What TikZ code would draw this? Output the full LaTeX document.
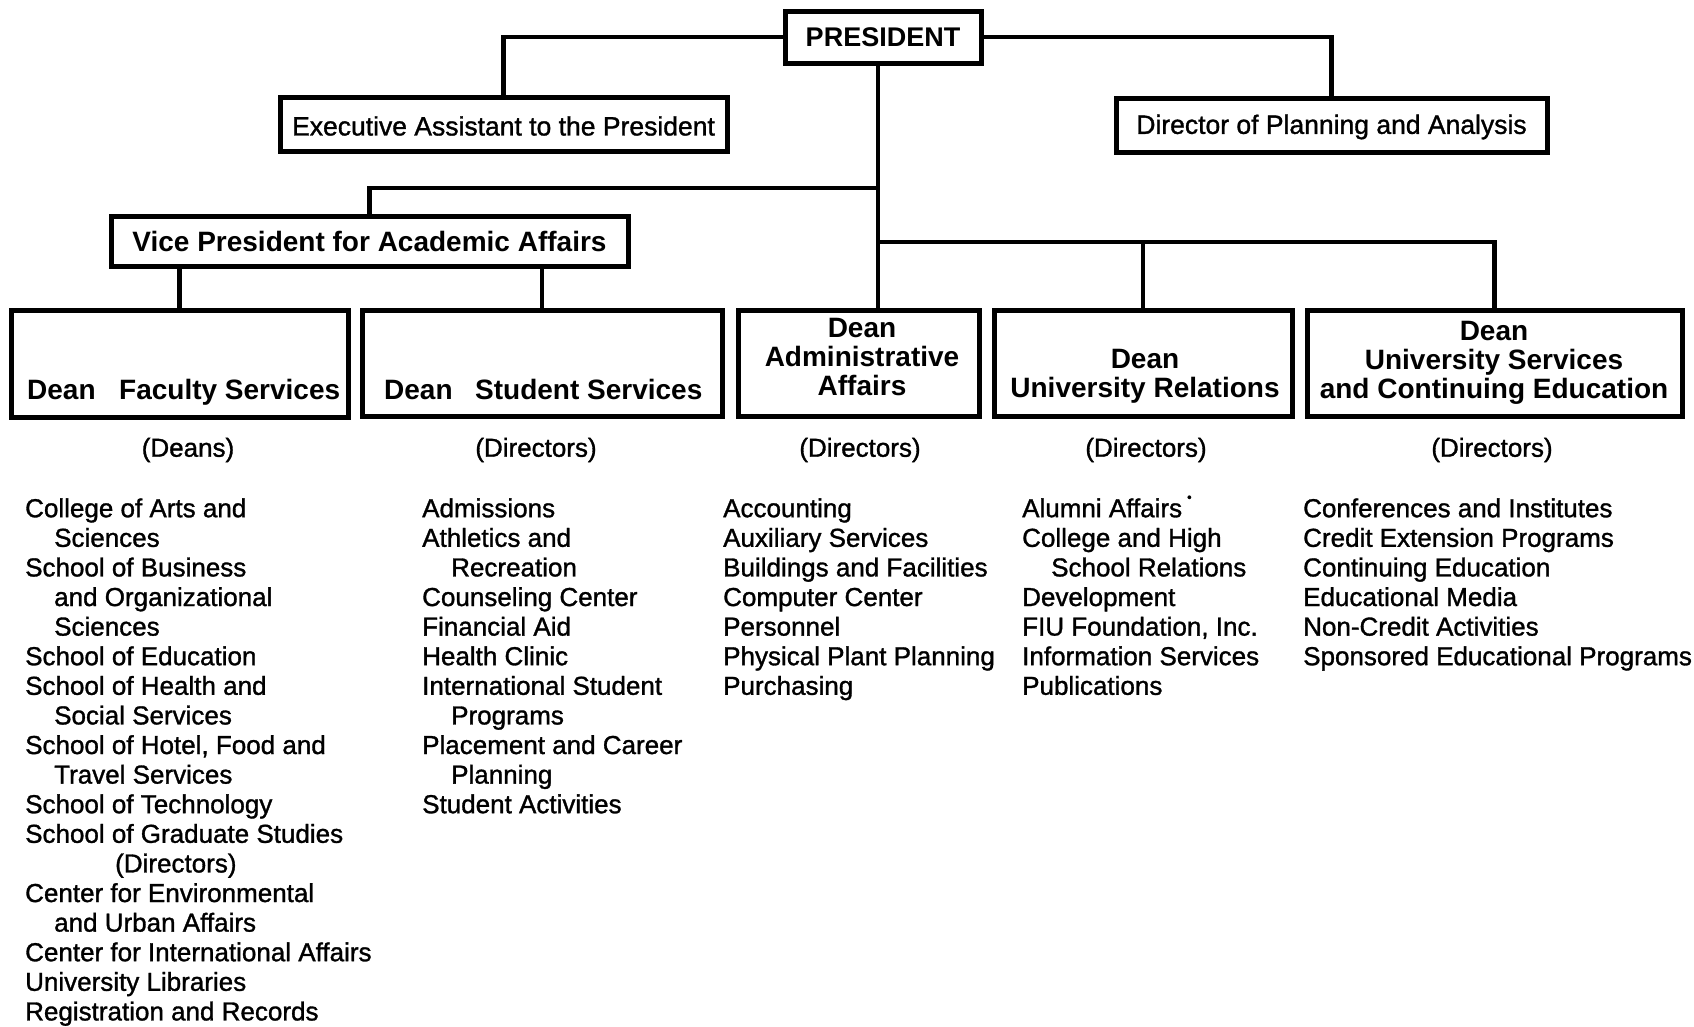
\documentclass[tikz,border=0pt]{standalone}
\usepackage{fontspec}
\setmainfont{Liberation Sans}
\newfontfamily\medfont{Liberation Sans}[FakeBold=1.2]
\newcommand\myind{\hspace*{29pt}}
\newcommand\firstrule{\rule{0pt}{19pt}}
\tikzset{
  box/.style={draw, line width=5pt, inner sep=0pt, fill=white},
  btxt/.style={inner sep=0pt, font=\fontsize{28}{29}\selectfont\bfseries, align=center},
  rtxt/.style={inner sep=0pt, font=\fontsize{26.5}{29}\selectfont\medfont},
  conn/.style={line width=4.5pt},
  head/.style={inner sep=0pt, font=\fontsize{26}{29.6}\selectfont\medfont},
  lst/.style={inner sep=0pt, anchor=north west, align=left, font=\fontsize{26}{29.6}\selectfont\medfont},
}
\begin{document}
\begin{tikzpicture}[x=1pt,y=-1pt]
\useasboundingbox[fill=white] (0,0) rectangle (1694,1026);

% boxes
\node[box, minimum width=196pt, minimum height=52pt] (pres) at (883,37) {};
\node[box, minimum width=447pt, minimum height=54pt] (exec) at (503.5,124) {};
\node[box, minimum width=431pt, minimum height=54pt] (dir) at (1331.5,125) {};
\node[box, minimum width=517pt, minimum height=50pt] (vp) at (369.5,241) {};
\node[box, minimum width=337pt, minimum height=107pt] (fac) at (179.5,363.5) {};
\node[box, minimum width=360pt, minimum height=106pt] (stu) at (542,363) {};
\node[box, minimum width=241pt, minimum height=106pt] (adm) at (858.5,363) {};
\node[box, minimum width=298pt, minimum height=106pt] (rel) at (1143,363) {};
\node[box, minimum width=375pt, minimum height=106pt] (svc) at (1494.5,363) {};

% box texts
\node[btxt, font=\fontsize{27}{29}\selectfont\bfseries] (pres-t) at (pres) {PRESIDENT};
\node[rtxt] (exec-t) at (503.5,126) {Executive Assistant to the President};
\node[rtxt] (dir-t) at (1331.5,127) {Director of Planning and Analysis};
\node[btxt] (vp-t) at (vp) {Vice President for Academic Affairs};
\node[btxt, anchor=base west] (fac-t1) at (27,399) {Dean};
\node[btxt, anchor=base west] (fac-t2) at (119,399) {Faculty Services};
\node[btxt, anchor=base west] (stu-t1) at (384,399) {Dean};
\node[btxt, anchor=base west] (stu-t2) at (475,399) {Student Services};
\node[btxt] (adm-t) at (862,357) {Dean\\Administrative\\Affairs};
\node[btxt] (rel-t) at (1145,376) {Dean\\University Relations};
\node[btxt] (svc-t) at (1494,363) {Dean\\University Services\\and Continuing Education};

% connectors
\coordinate (trunk) at (878,0);
\coordinate (j1) at (878,188);
\coordinate (j2) at (878,242);
\draw[conn] (pres.west) -| (exec.north);
\draw[conn] (pres.east) -| (dir.north);
\draw[conn] (pres.south -| trunk) -- (trunk |- adm.north);
\draw[conn] (j1) -| (vp.north);
\draw[conn] (j2) -| (rel.north);
\draw[conn] (j2) -| (svc.north);
\draw[conn] (vp.south -| fac.north) -- (fac.north);
\draw[conn] (vp.south -| stu.north) -- (stu.north);

% headings
\node[head] (h1) at (188,450) {(Deans)};
\node[head] (h2) at (536,450) {(Directors)};
\node[head] (h3) at (860,450) {(Directors)};
\node[head] (h4) at (1146,450) {(Directors)};
\node[head] (h5) at (1492,450) {(Directors)};

% lists
\node[lst] (l1) at (25,498) {\firstrule College of Arts and\\
\myind Sciences\\
School of Business\\
\myind and Organizational\\
\myind Sciences\\
School of Education\\
School of Health and\\
\myind Social Services\\
School of Hotel, Food and\\
\myind Travel Services\\
School of Technology\\
School of Graduate Studies\\
\hspace*{90pt}(Directors)\\
Center for Environmental\\
\myind and Urban Affairs\\
Center for International Affairs\\
University Libraries\\
Registration and Records};

\node[lst] (l2) at (422,498) {\firstrule Admissions\\
Athletics and\\
\myind Recreation\\
Counseling Center\\
Financial Aid\\
Health Clinic\\
International Student\\
\myind Programs\\
Placement and Career\\
\myind Planning\\
Student Activities};

\node[lst] (l3) at (723,498) {\firstrule Accounting\\
Auxiliary Services\\
Buildings and Facilities\\
Computer Center\\
Personnel\\
Physical Plant Planning\\
Purchasing};

\node[lst] (l4) at (1022,498) {\firstrule Alumni Affairs\rlap{\hspace{5pt}\smash{\raisebox{0.6em}{\fontsize{13}{13}\selectfont •}}}\\
College and High\\
\myind School Relations\\
Development\\
FIU Foundation, Inc.\\
Information Services\\
Publications};

\node[lst] (l5) at (1303,498) {\firstrule Conferences and Institutes\\
Credit Extension Programs\\
Continuing Education\\
Educational Media\\
Non-Credit Activities\\
Sponsored Educational Programs};
\end{tikzpicture}
\end{document}
